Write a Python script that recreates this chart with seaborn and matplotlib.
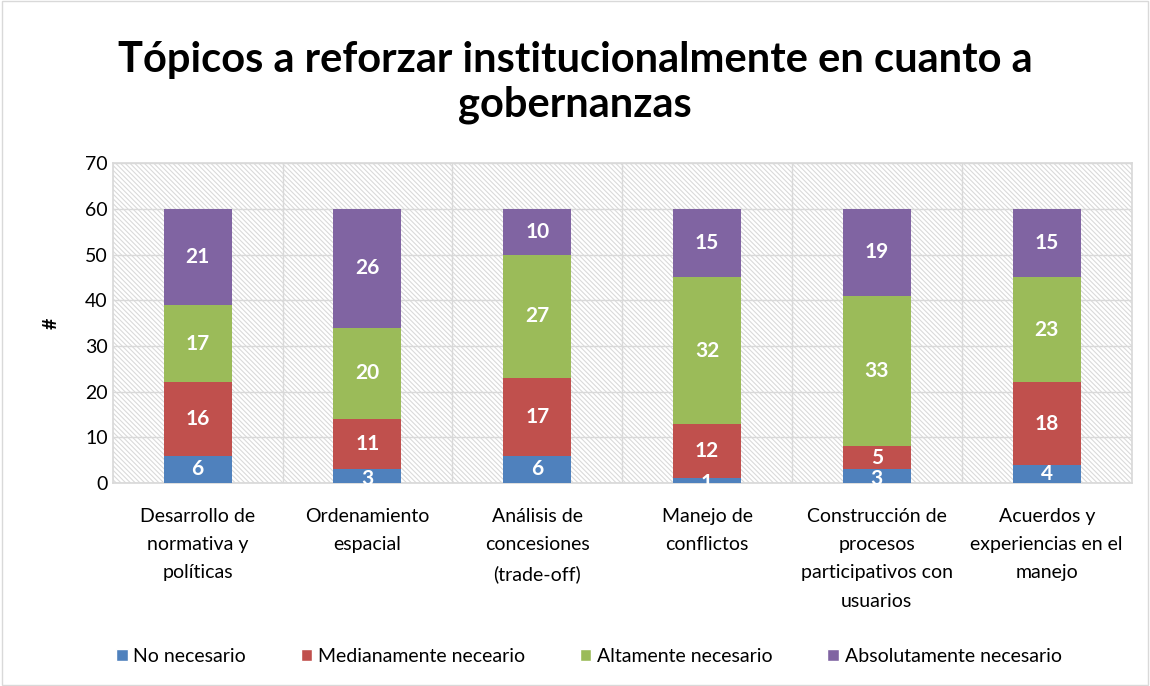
import matplotlib
matplotlib.use("Agg")
import matplotlib.pyplot as plt
import numpy as np
import pandas as pd
import seaborn as sns
from matplotlib.patches import Rectangle

categories = [
    "Desarrollo de\nnormativa y\npolíticas",
    "Ordenamiento\nespacial",
    "Análisis de\nconcesiones\n(trade-off)",
    "Manejo de\nconflictos",
    "Construcción de\nprocesos\nparticipativos con\nusuarios",
    "Acuerdos y\nexperiencias en el\nmanejo",
]
series = ["No necesario", "Medianamente neceario", "Altamente necesario", "Absolutamente necesario"]
no_necesario = [6, 3, 6, 1, 3, 4]
medianamente = [16, 11, 17, 12, 5, 18]
altamente = [17, 20, 27, 32, 33, 23]
absolutamente = [21, 26, 10, 15, 19, 15]
colors = ["#4f81bd", "#c0504d", "#9bbb59", "#8064a2"]

sns.set_theme(style="white")
plt.rcParams["font.family"] = ["Lato", "DejaVu Sans"]
plt.rcParams["hatch.color"] = "#dadada"
plt.rcParams["hatch.linewidth"] = 0.8
plt.rcParams["text.color"] = "black"

values = np.array([no_necesario, medianamente, altamente, absolutamente])
cum = values.cumsum(axis=0)

fig = plt.figure(figsize=(11.5, 6.86), dpi=100)
ax = fig.add_axes([0.098, 0.296, 0.886, 0.466])

# hatched plot background
ax.add_patch(Rectangle((0, 0), 1, 1, transform=ax.transAxes, facecolor="white",
                       edgecolor="#dadada", hatch="\\\\\\\\\\\\\\", linewidth=0, zorder=0))

# stacked bars: draw cumulative totals from top to bottom
for i in range(len(series) - 1, -1, -1):
    df = pd.DataFrame({"cat": categories, "val": cum[i]})
    sns.barplot(data=df, x="cat", y="val", color=colors[i], saturation=1,
                width=0.4, ax=ax, zorder=3, label=series[i], linewidth=0)

for i in range(len(series)):
    for j in range(len(categories)):
        v = values[i, j]
        y = cum[i, j] - v / 2
        if v <= 3:
            y = cum[i, j] - v / 2 - 0.6
        ax.text(j, y, str(v), ha="center", va="center", color="white",
                fontsize=15, fontweight="bold", zorder=5)

if ax.legend_ is not None:
    ax.legend_.remove()

ax.set_ylim(0, 70)
ax.set_xlim(-0.5, 5.5)
ax.set_yticks(range(0, 71, 10))
ax.yaxis.grid(True, color="#d9d9d9", linewidth=1, zorder=1)
for x in np.arange(0.5, 5.5, 1):
    ax.axvline(x, color="#d9d9d9", linewidth=1, zorder=1)
ax.set_axisbelow(True)
for s in ax.spines.values():
    s.set_color("#d9d9d9")
ax.tick_params(axis="both", labelsize=14, length=0, colors="black")
ax.tick_params(axis="x", pad=18)
ax.set_xlabel("")
ax.set_ylabel("#", fontsize=14, fontweight="bold", labelpad=18, color="black")
for lbl in ax.get_xticklabels():
    lbl.set_verticalalignment("top")
    lbl.set_linespacing(1.8)

fig.suptitle("Tópicos a reforzar institucionalmente en cuanto a\ngobernanzas",
             y=0.94, fontsize=30, fontweight="bold", linespacing=1.2, color="black")

handles = [Rectangle((0, 0), 1, 1, facecolor=c) for c in colors]
fig.legend(handles, series,
           loc="center", bbox_to_anchor=(0.512, 0.043), ncol=4, frameon=False,
           fontsize=14, handlelength=0.6, handleheight=0.6, handletextpad=0.3,
           columnspacing=2.8)

fig.patches.append(Rectangle((0.002, 0.002), 0.996, 0.996, transform=fig.transFigure,
                             fill=False, edgecolor="#d9d9d9", linewidth=1))
fig.savefig("out.png", dpi=100)
